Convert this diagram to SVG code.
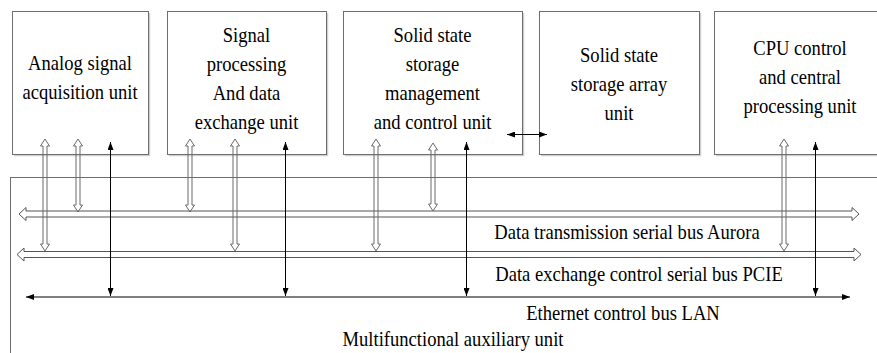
<svg xmlns="http://www.w3.org/2000/svg" width="877" height="353" viewBox="0 0 877 353">
<style>
.box{fill:#fff;stroke:#6e6e6e;stroke-width:1}
.shadow{fill:none;stroke:#cfcfcf;stroke-width:1.5}
.t{font-family:"Liberation Serif","Times New Roman",serif;font-size:18.6px;text-anchor:middle;fill:#000}
.hollow{fill:none;stroke:#6a6a6a;stroke-width:1}
.bus{fill:none;stroke:#555;stroke-width:1}
.single{stroke:#000;stroke-width:1;fill:none;marker-start:url(#ah);marker-end:url(#ah)}
</style>
<defs>
<marker id="ah" viewBox="0 0 8 6" refX="8" refY="3" markerWidth="8" markerHeight="6" markerUnits="userSpaceOnUse" orient="auto-start-reverse">
<path d="M0,0 L8,3 L0,6 Z" fill="#000"/>
</marker>
</defs>
<rect width="877" height="353" fill="#fff"/>

<g id="multifunctional-auxiliary-unit">
<rect class="box" x="10.5" y="177.5" width="900" height="200"/>
<text class="t" transform="translate(453,346) scale(1,1.15)">Multifunctional auxiliary unit</text>
</g>

<g id="analog-signal-acquisition-unit">
<path class="shadow" d="M14,155.5 H149.5 V13"/>
<rect class="box" x="12.5" y="11.5" width="136" height="143"/>
<text class="t" transform="translate(80,70) scale(1,1.15)">Analog signal</text>
<text class="t" transform="translate(80,99) scale(1,1.15)">acquisition unit</text>
</g>

<g id="signal-processing-unit">
<path class="shadow" d="M169,155.5 H327.5 V13"/>
<rect class="box" x="167.5" y="11.5" width="159" height="143"/>
<text class="t" transform="translate(246.5,42) scale(1,1.15)">Signal</text>
<text class="t" transform="translate(246.5,71) scale(1,1.15)">processing</text>
<text class="t" transform="translate(246.5,100) scale(1,1.15)">And data</text>
<text class="t" transform="translate(246.5,129) scale(1,1.15)">exchange unit</text>
</g>

<g id="storage-management-unit">
<path class="shadow" d="M345,155.5 H523.5 V13"/>
<rect class="box" x="343.5" y="11.5" width="179" height="143"/>
<text class="t" transform="translate(432.5,42) scale(1,1.15)">Solid state</text>
<text class="t" transform="translate(432.5,71) scale(1,1.15)">storage</text>
<text class="t" transform="translate(432.5,100) scale(1,1.15)">management</text>
<text class="t" transform="translate(432.5,129) scale(1,1.15)">and control unit</text>
</g>

<g id="storage-array-unit">
<path class="shadow" d="M541,155.5 H700.5 V13"/>
<rect class="box" x="539.5" y="11.5" width="160" height="143"/>
<text class="t" transform="translate(619,62) scale(1,1.15)">Solid state</text>
<text class="t" transform="translate(619,91) scale(1,1.15)">storage array</text>
<text class="t" transform="translate(619,120) scale(1,1.15)">unit</text>
</g>

<g id="cpu-unit">
<path class="shadow" d="M716,155.5 H880"/>
<rect class="box" x="714.5" y="11.5" width="200" height="143"/>
<text class="t" transform="translate(800,55) scale(1,1.15)">CPU control</text>
<text class="t" transform="translate(800,84) scale(1,1.15)">and central</text>
<text class="t" transform="translate(800,113) scale(1,1.15)">processing unit</text>
</g>

<g id="connectors">
<path class="bus" d="M19,214 L26,207.5 L26,211 L852,211 L852,207.5 L859,214 L852,220.5 L852,217 L26,217 L26,220.5 Z"/>
<path class="bus" d="M17,254.5 L24,248 L24,251.5 L854,251.5 L854,248 L861,254.5 L854,261 L854,257.5 L24,257.5 L24,261 Z"/>
<line class="single" x1="26" y1="297" x2="850" y2="297"/>

<path class="hollow" d="M45,139 L49.5,146 L47,146 L47,244 L49.5,244 L45,251 L40.5,244 L43,244 L43,146 L40.5,146 Z"/>
<path class="hollow" d="M78,139 L82.5,146 L80,146 L80,205 L82.5,205 L78,212 L73.5,205 L76,205 L76,146 L73.5,146 Z"/>
<path class="hollow" d="M190,139 L194.5,146 L192,146 L192,205 L194.5,205 L190,212 L185.5,205 L188,205 L188,146 L185.5,146 Z"/>
<path class="hollow" d="M235,139 L239.5,146 L237,146 L237,244 L239.5,244 L235,251 L230.5,244 L233,244 L233,146 L230.5,146 Z"/>
<path class="hollow" d="M376,139 L380.5,146 L378,146 L378,244 L380.5,244 L376,251 L371.5,244 L374,244 L374,146 L371.5,146 Z"/>
<path class="hollow" d="M433,143 L437.5,150 L435,150 L435,204 L437.5,204 L433,211 L428.5,204 L431,204 L431,150 L428.5,150 Z"/>
<path class="hollow" d="M784,139 L788.5,146 L786,146 L786,244 L788.5,244 L784,251 L779.5,244 L782,244 L782,146 L779.5,146 Z"/>

<line class="single" x1="110.5" y1="142" x2="110.5" y2="296"/>
<line class="single" x1="285.5" y1="142" x2="285.5" y2="296"/>
<line class="single" x1="466.5" y1="142" x2="466.5" y2="296"/>
<line class="single" x1="815.5" y1="142" x2="815.5" y2="296"/>

<line class="single" x1="507" y1="134.5" x2="547" y2="134.5"/>

<text class="t" transform="translate(627,239) scale(1,1.15)">Data transmission serial bus Aurora</text>
<text class="t" transform="translate(639,281) scale(1,1.15)">Data exchange control serial bus PCIE</text>
<text class="t" transform="translate(623,320) scale(1,1.15)">Ethernet control bus LAN</text>
</g>
</svg>
